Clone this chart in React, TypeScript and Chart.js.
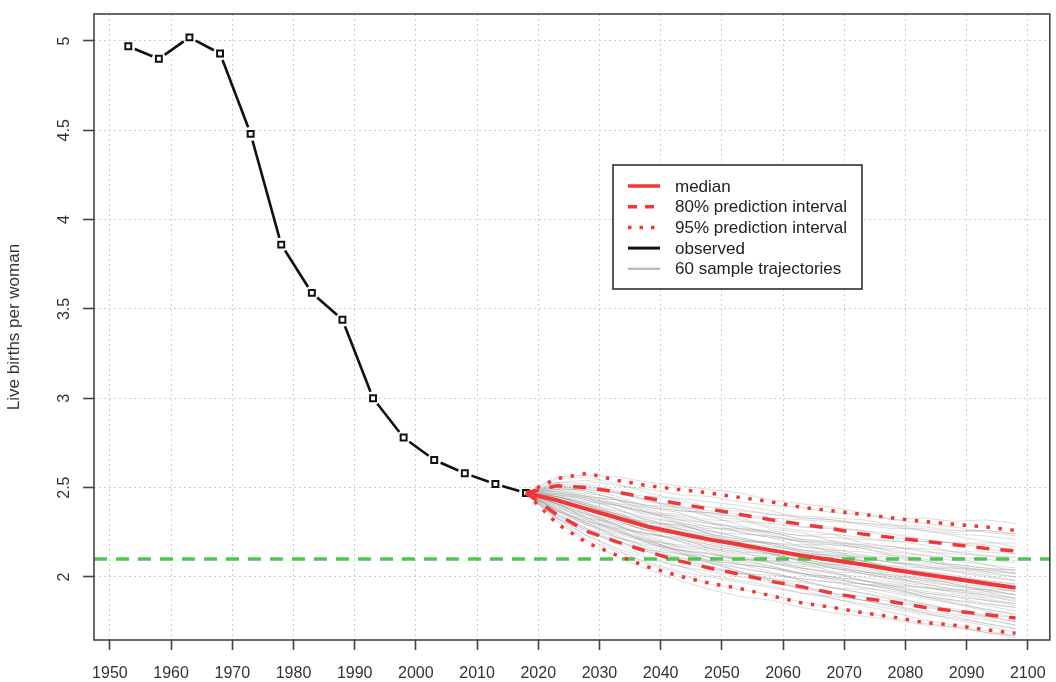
import React, { useEffect, useRef } from 'react';
import { Chart, registerables } from 'chart.js';

Chart.register(...registerables);

// ---------- data ----------
const OBS_YEARS = [1953, 1958, 1963, 1968, 1973, 1978, 1983, 1988, 1993, 1998, 2003, 2008, 2013, 2018];
const OBS_TFR = [4.97, 4.9, 5.02, 4.93, 4.48, 3.86, 3.59, 3.44, 3.0, 2.78, 2.655, 2.58, 2.52, 2.47];

const PROJ_YEARS = [2018, 2023, 2028, 2033, 2038, 2043, 2048, 2053, 2058, 2063, 2068, 2073, 2078, 2083, 2088, 2093, 2098];
const MEDIAN = [2.47, 2.43, 2.38, 2.33, 2.28, 2.245, 2.21, 2.18, 2.15, 2.12, 2.095, 2.07, 2.04, 2.015, 1.99, 1.965, 1.94];
const PI80_HIGH = [2.47, 2.51, 2.5, 2.475, 2.44, 2.41, 2.38, 2.35, 2.32, 2.295, 2.27, 2.24, 2.22, 2.2, 2.18, 2.16, 2.145];
const PI80_LOW = [2.47, 2.35, 2.255, 2.195, 2.14, 2.09, 2.05, 2.015, 1.975, 1.945, 1.91, 1.88, 1.86, 1.83, 1.81, 1.79, 1.77];
const PI95_HIGH = [2.47, 2.55, 2.58, 2.54, 2.51, 2.49, 2.47, 2.445, 2.42, 2.39, 2.37, 2.35, 2.33, 2.31, 2.295, 2.28, 2.26];
const PI95_LOW = [2.47, 2.3, 2.19, 2.12, 2.055, 2.005, 1.965, 1.935, 1.895, 1.855, 1.83, 1.8, 1.775, 1.745, 1.73, 1.705, 1.685];

// 60 sample trajectories, values for 2023 ... 2098 (each starts from the last observed value)
const TRAJECTORIES: number[][] = [
  [2.53, 2.54, 2.51, 2.49, 2.46, 2.45, 2.42, 2.40, 2.39, 2.36, 2.35, 2.32, 2.33, 2.31, 2.32, 2.30],
  [2.49, 2.49, 2.47, 2.45, 2.44, 2.42, 2.40, 2.37, 2.33, 2.32, 2.29, 2.27, 2.27, 2.25, 2.26, 2.24],
  [2.55, 2.56, 2.52, 2.47, 2.43, 2.39, 2.38, 2.35, 2.33, 2.32, 2.30, 2.28, 2.26, 2.24, 2.23, 2.21],
  [2.47, 2.45, 2.43, 2.40, 2.39, 2.37, 2.37, 2.35, 2.34, 2.33, 2.32, 2.29, 2.26, 2.23, 2.20, 2.17],
  [2.51, 2.50, 2.47, 2.42, 2.40, 2.35, 2.34, 2.32, 2.28, 2.27, 2.26, 2.22, 2.20, 2.19, 2.18, 2.15],
  [2.45, 2.42, 2.40, 2.36, 2.35, 2.32, 2.31, 2.30, 2.28, 2.28, 2.26, 2.24, 2.21, 2.19, 2.16, 2.13],
  [2.52, 2.51, 2.47, 2.43, 2.38, 2.34, 2.32, 2.27, 2.25, 2.20, 2.18, 2.17, 2.14, 2.13, 2.12, 2.11],
  [2.41, 2.38, 2.33, 2.31, 2.29, 2.27, 2.27, 2.26, 2.23, 2.24, 2.22, 2.20, 2.18, 2.14, 2.12, 2.09],
  [2.48, 2.45, 2.43, 2.40, 2.37, 2.36, 2.33, 2.28, 2.26, 2.24, 2.19, 2.17, 2.15, 2.11, 2.10, 2.08],
  [2.50, 2.47, 2.44, 2.38, 2.33, 2.30, 2.27, 2.25, 2.21, 2.20, 2.17, 2.15, 2.12, 2.11, 2.07, 2.05],
  [2.43, 2.39, 2.35, 2.30, 2.29, 2.25, 2.24, 2.23, 2.20, 2.19, 2.18, 2.14, 2.12, 2.09, 2.07, 2.03],
  [2.46, 2.43, 2.40, 2.35, 2.34, 2.31, 2.27, 2.23, 2.20, 2.16, 2.12, 2.11, 2.08, 2.07, 2.05, 2.04],
  [2.51, 2.49, 2.45, 2.39, 2.36, 2.30, 2.28, 2.25, 2.21, 2.19, 2.16, 2.13, 2.10, 2.07, 2.05, 2.02],
  [2.39, 2.33, 2.30, 2.26, 2.24, 2.23, 2.20, 2.19, 2.17, 2.15, 2.14, 2.12, 2.09, 2.06, 2.04, 2.02],
  [2.45, 2.41, 2.37, 2.33, 2.30, 2.28, 2.25, 2.22, 2.20, 2.18, 2.16, 2.12, 2.09, 2.06, 2.03, 2.00],
  [2.49, 2.45, 2.40, 2.34, 2.30, 2.24, 2.21, 2.19, 2.15, 2.13, 2.11, 2.08, 2.06, 2.04, 2.02, 2.00],
  [2.41, 2.35, 2.31, 2.26, 2.24, 2.21, 2.19, 2.17, 2.15, 2.14, 2.12, 2.09, 2.06, 2.03, 2.01, 1.98],
  [2.47, 2.44, 2.40, 2.36, 2.32, 2.30, 2.25, 2.22, 2.17, 2.15, 2.10, 2.08, 2.05, 2.03, 2.00, 1.98],
  [2.44, 2.40, 2.35, 2.32, 2.28, 2.26, 2.22, 2.18, 2.14, 2.11, 2.07, 2.05, 2.02, 2.00, 1.98, 1.96],
  [2.37, 2.30, 2.25, 2.20, 2.18, 2.16, 2.14, 2.13, 2.11, 2.10, 2.09, 2.06, 2.03, 2.01, 1.98, 1.96],
  [2.49, 2.46, 2.41, 2.36, 2.31, 2.26, 2.22, 2.19, 2.15, 2.12, 2.09, 2.05, 2.03, 2.00, 1.97, 1.94],
  [2.45, 2.41, 2.36, 2.29, 2.26, 2.20, 2.19, 2.14, 2.13, 2.09, 2.08, 2.03, 2.02, 1.98, 1.97, 1.94],
  [2.42, 2.37, 2.34, 2.29, 2.27, 2.24, 2.21, 2.18, 2.14, 2.12, 2.09, 2.05, 2.02, 1.99, 1.95, 1.92],
  [2.47, 2.43, 2.38, 2.32, 2.27, 2.23, 2.19, 2.15, 2.10, 2.07, 2.04, 2.01, 1.98, 1.97, 1.94, 1.92],
  [2.40, 2.34, 2.28, 2.24, 2.21, 2.17, 2.15, 2.12, 2.10, 2.07, 2.05, 2.02, 1.99, 1.96, 1.93, 1.90],
  [2.45, 2.40, 2.34, 2.28, 2.24, 2.19, 2.16, 2.13, 2.09, 2.06, 2.03, 2.00, 1.98, 1.95, 1.93, 1.90],
  [2.35, 2.27, 2.22, 2.18, 2.15, 2.13, 2.10, 2.08, 2.05, 2.03, 2.02, 1.99, 1.96, 1.93, 1.91, 1.88],
  [2.48, 2.44, 2.38, 2.31, 2.27, 2.21, 2.17, 2.13, 2.09, 2.05, 2.02, 1.98, 1.95, 1.91, 1.88, 1.85],
  [2.43, 2.37, 2.31, 2.26, 2.20, 2.16, 2.13, 2.11, 2.07, 2.06, 2.03, 2.00, 1.96, 1.93, 1.90, 1.86],
  [2.38, 2.31, 2.26, 2.21, 2.17, 2.15, 2.11, 2.08, 2.05, 2.02, 2.00, 1.97, 1.94, 1.92, 1.89, 1.87],
  [2.46, 2.41, 2.35, 2.29, 2.23, 2.18, 2.14, 2.10, 2.05, 2.02, 1.98, 1.95, 1.92, 1.90, 1.87, 1.85],
  [2.41, 2.35, 2.28, 2.23, 2.17, 2.13, 2.09, 2.06, 2.02, 1.99, 1.96, 1.94, 1.91, 1.89, 1.87, 1.84],
  [2.37, 2.29, 2.22, 2.17, 2.13, 2.09, 2.07, 2.05, 2.02, 2.00, 1.98, 1.95, 1.91, 1.89, 1.85, 1.83],
  [2.44, 2.38, 2.32, 2.25, 2.20, 2.14, 2.10, 2.06, 2.02, 1.98, 1.94, 1.92, 1.89, 1.87, 1.85, 1.83],
  [2.39, 2.32, 2.25, 2.20, 2.15, 2.11, 2.08, 2.05, 2.01, 1.99, 1.96, 1.93, 1.90, 1.87, 1.84, 1.81],
  [2.34, 2.26, 2.19, 2.14, 2.11, 2.08, 2.05, 2.02, 1.99, 1.97, 1.94, 1.91, 1.88, 1.85, 1.82, 1.79],
  [2.45, 2.40, 2.34, 2.27, 2.22, 2.16, 2.12, 2.08, 2.04, 2.00, 1.96, 1.93, 1.89, 1.86, 1.82, 1.79],
  [2.41, 2.33, 2.27, 2.20, 2.15, 2.09, 2.05, 2.02, 1.98, 1.94, 1.91, 1.88, 1.85, 1.82, 1.79, 1.77],
  [2.36, 2.27, 2.20, 2.14, 2.09, 2.04, 2.02, 1.99, 1.97, 1.94, 1.93, 1.89, 1.85, 1.81, 1.77, 1.73],
  [2.42, 2.36, 2.29, 2.22, 2.16, 2.11, 2.07, 2.03, 1.98, 1.94, 1.91, 1.87, 1.84, 1.81, 1.78, 1.75],
  [2.33, 2.23, 2.16, 2.10, 2.06, 2.03, 2.00, 1.97, 1.94, 1.91, 1.89, 1.86, 1.83, 1.81, 1.78, 1.75],
  [2.38, 2.30, 2.23, 2.16, 2.11, 2.06, 2.02, 1.98, 1.94, 1.90, 1.87, 1.84, 1.81, 1.79, 1.76, 1.73],
  [2.43, 2.36, 2.29, 2.21, 2.14, 2.08, 2.03, 1.99, 1.95, 1.91, 1.87, 1.84, 1.80, 1.78, 1.74, 1.71],
  [2.35, 2.26, 2.18, 2.11, 2.06, 2.01, 1.98, 1.95, 1.91, 1.88, 1.85, 1.82, 1.79, 1.77, 1.74, 1.71],
  [2.40, 2.32, 2.26, 2.19, 2.14, 2.09, 2.07, 2.05, 2.02, 2.00, 1.98, 1.96, 1.94, 1.92, 1.90, 1.88],
  [2.32, 2.21, 2.14, 2.08, 2.03, 2.00, 1.97, 1.94, 1.91, 1.89, 1.87, 1.83, 1.80, 1.76, 1.73, 1.69],
  [2.37, 2.29, 2.24, 2.19, 2.15, 2.13, 2.10, 2.09, 2.06, 2.05, 2.03, 2.01, 1.99, 1.98, 1.95, 1.94],
  [2.33, 2.23, 2.15, 2.07, 2.02, 1.96, 1.93, 1.90, 1.86, 1.83, 1.80, 1.77, 1.74, 1.72, 1.69, 1.66],
  [2.45, 2.40, 2.35, 2.29, 2.25, 2.21, 2.17, 2.13, 2.09, 2.05, 2.02, 1.99, 1.97, 1.95, 1.92, 1.90],
  [2.41, 2.35, 2.29, 2.24, 2.21, 2.18, 2.16, 2.14, 2.13, 2.12, 2.11, 2.08, 2.07, 2.05, 2.03, 2.02],
  [2.51, 2.48, 2.43, 2.36, 2.30, 2.24, 2.19, 2.14, 2.08, 2.03, 1.98, 1.94, 1.89, 1.85, 1.81, 1.77],
  [2.37, 2.31, 2.27, 2.24, 2.22, 2.21, 2.20, 2.19, 2.18, 2.18, 2.17, 2.16, 2.16, 2.14, 2.14, 2.13],
  [2.53, 2.52, 2.48, 2.43, 2.39, 2.34, 2.29, 2.24, 2.19, 2.14, 2.09, 2.04, 2.00, 1.96, 1.92, 1.88],
  [2.33, 2.25, 2.20, 2.15, 2.13, 2.11, 2.10, 2.09, 2.08, 2.07, 2.07, 2.06, 2.05, 2.05, 2.04, 2.04],
  [2.46, 2.44, 2.41, 2.39, 2.37, 2.36, 2.35, 2.33, 2.32, 2.31, 2.30, 2.29, 2.28, 2.26, 2.26, 2.24],
  [2.41, 2.33, 2.26, 2.19, 2.13, 2.08, 2.03, 1.98, 1.93, 1.88, 1.84, 1.80, 1.76, 1.73, 1.70, 1.67],
  [2.50, 2.48, 2.43, 2.37, 2.32, 2.28, 2.26, 2.25, 2.23, 2.22, 2.21, 2.20, 2.20, 2.19, 2.19, 2.19],
  [2.38, 2.30, 2.22, 2.15, 2.10, 2.05, 2.02, 2.01, 1.99, 1.97, 1.96, 1.95, 1.94, 1.93, 1.93, 1.92],
  [2.56, 2.57, 2.56, 2.53, 2.51, 2.49, 2.47, 2.43, 2.41, 2.39, 2.36, 2.32, 2.30, 2.28, 2.25, 2.23],
  [2.31, 2.20, 2.11, 2.04, 1.98, 1.93, 1.89, 1.87, 1.83, 1.80, 1.78, 1.76, 1.73, 1.72, 1.69, 1.67],
];

const REPLACEMENT_LEVEL = 2.1;

const X_MIN = 1947.4;
const X_MAX = 2103.6;
const X_STEP = 10;
const Y_MIN = 1.647;
const Y_MAX = 5.151;
const Y_STEP = 0.5;

const Y_TITLE = 'Live births per woman';
const LEGEND_LABELS = ['median', '80% prediction interval', '95% prediction interval', 'observed', '60 sample trajectories'];

// ---------- styles ----------
const FONT = '"Liberation Sans", Arial, Helvetica, sans-serif';
const RED = 'rgb(240, 55, 55)';
const GREEN = 'rgb(76, 201, 76)';
const GRAY_TRAJ = 'rgba(150, 150, 150, 0.32)';
const GRAY_LEG = 'rgb(190, 190, 190)';
const BLACK = '#111111';
const AXIS_COL = '#444444';
const GRID_COL = '#cdcdcd';
const TEXT_COL = '#333333';

const pts = (xs: number[], ys: number[]) => xs.map((x, i) => ({ x, y: ys[i] }));

const LEGEND_STYLES = [
  { color: RED, width: 3.5, dash: [] as number[] },
  { color: RED, width: 3.5, dash: [9, 8] },
  { color: RED, width: 3.5, dash: [3.5, 8] },
  { color: BLACK, width: 3, dash: [] as number[] },
  { color: GRAY_LEG, width: 2.5, dash: [] as number[] },
];

// observed series drawn R "type = b" style: segments stop short of each point
const observedLinePlugin = {
  id: 'rObservedLine',
  beforeDatasetsDraw(chart: any) {
    const { ctx } = chart;
    const xs = chart.scales.x;
    const ys = chart.scales.y;
    const gap = 7;
    ctx.save();
    ctx.strokeStyle = BLACK;
    ctx.lineWidth = 2.6;
    ctx.lineCap = 'butt';
    ctx.setLineDash([]);
    for (let i = 0; i < OBS_YEARS.length - 1; i++) {
      const x1 = xs.getPixelForValue(OBS_YEARS[i]);
      const y1 = ys.getPixelForValue(OBS_TFR[i]);
      const x2 = xs.getPixelForValue(OBS_YEARS[i + 1]);
      const y2 = ys.getPixelForValue(OBS_TFR[i + 1]);
      const dx = x2 - x1;
      const dy = y2 - y1;
      const len = Math.hypot(dx, dy);
      if (len <= 2 * gap) continue;
      const ux = dx / len;
      const uy = dy / len;
      ctx.beginPath();
      ctx.moveTo(x1 + ux * gap, y1 + uy * gap);
      ctx.lineTo(x2 - ux * gap, y2 - uy * gap);
      ctx.stroke();
    }
    ctx.restore();
  },
};

const boxPlugin = {
  id: 'rBox',
  afterDatasetsDraw(chart: any) {
    const { ctx, chartArea } = chart;
    ctx.save();
    ctx.strokeStyle = AXIS_COL;
    ctx.lineWidth = 1.6;
    ctx.setLineDash([]);
    ctx.strokeRect(chartArea.left, chartArea.top, chartArea.right - chartArea.left, chartArea.bottom - chartArea.top);
    ctx.restore();
  },
};

const legendPlugin = {
  id: 'rLegend',
  afterDatasetsDraw(chart: any) {
    const { ctx } = chart;
    const x0 = 613;
    const y0 = 165;
    const w = 249;
    const h = 124;
    ctx.save();
    ctx.fillStyle = '#ffffff';
    ctx.fillRect(x0, y0, w, h);
    ctx.strokeStyle = '#222222';
    ctx.lineWidth = 1.5;
    ctx.strokeRect(x0, y0, w, h);
    ctx.font = `17px ${FONT}`;
    ctx.textBaseline = 'middle';
    ctx.textAlign = 'left';
    LEGEND_LABELS.forEach((label, i) => {
      const y = y0 + 21 + i * 20.7;
      const st = LEGEND_STYLES[i];
      ctx.beginPath();
      ctx.strokeStyle = st.color;
      ctx.lineWidth = st.width;
      ctx.setLineDash(st.dash);
      ctx.moveTo(628, y);
      ctx.lineTo(660, y);
      ctx.stroke();
      ctx.setLineDash([]);
      ctx.fillStyle = '#222222';
      ctx.fillText(label, 675, y + 1);
    });
    ctx.restore();
  },
};

const yLabelPlugin = {
  id: 'rYLabels',
  afterDraw(chart: any) {
    const { ctx } = chart;
    const s = chart.scales.y;
    ctx.save();
    ctx.font = `16px ${FONT}`;
    ctx.fillStyle = TEXT_COL;
    ctx.textAlign = 'center';
    ctx.textBaseline = 'middle';
    s.ticks.forEach((t: any) => {
      const y = s.getPixelForValue(t.value);
      ctx.save();
      ctx.translate(s.right - 29, y);
      ctx.rotate(-Math.PI / 2);
      ctx.fillText(String(t.value), 0, 0);
      ctx.restore();
    });
    ctx.restore();
  },
};

export default function App() {
  const canvasRef = useRef<HTMLCanvasElement | null>(null);

  useEffect(() => {
    document.body.style.margin = '0';
    const canvas = canvasRef.current;
    if (!canvas) return;

    const lastObs = OBS_TFR[OBS_TFR.length - 1];

    const trajDatasets = TRAJECTORIES.map((row, k) => ({
      label: `trajectory ${k + 1}`,
      data: pts(PROJ_YEARS, [lastObs, ...row]),
      borderColor: GRAY_TRAJ,
      borderWidth: 1,
      pointRadius: 0,
      fill: false,
      order: 20,
    }));

    const datasets: any[] = [
      {
        label: 'observed',
        data: pts(OBS_YEARS, OBS_TFR),
        showLine: false,
        pointStyle: 'rect',
        pointRadius: 4.2,
        pointBackgroundColor: '#ffffff',
        pointBorderColor: BLACK,
        pointBorderWidth: 2,
        order: 28,
      },
      ...trajDatasets,
      {
        label: 'replacement level',
        data: [
          { x: X_MIN, y: REPLACEMENT_LEVEL },
          { x: X_MAX, y: REPLACEMENT_LEVEL },
        ],
        borderColor: GREEN,
        borderWidth: 3.5,
        borderDash: [13, 9],
        pointRadius: 0,
        order: 10,
      },
      {
        label: '95% upper',
        data: pts(PROJ_YEARS, PI95_HIGH),
        borderColor: RED,
        borderWidth: 3.5,
        borderDash: [3.5, 8.5],
        pointRadius: 0,
        order: 5,
      },
      {
        label: '95% lower',
        data: pts(PROJ_YEARS, PI95_LOW),
        borderColor: RED,
        borderWidth: 3.5,
        borderDash: [3.5, 8.5],
        pointRadius: 0,
        order: 5,
      },
      {
        label: '80% upper',
        data: pts(PROJ_YEARS, PI80_HIGH),
        borderColor: RED,
        borderWidth: 3.5,
        borderDash: [13, 11],
        pointRadius: 0,
        order: 4,
      },
      {
        label: '80% lower',
        data: pts(PROJ_YEARS, PI80_LOW),
        borderColor: RED,
        borderWidth: 3.5,
        borderDash: [13, 11],
        pointRadius: 0,
        order: 4,
      },
      {
        label: 'median',
        data: pts(PROJ_YEARS, MEDIAN),
        borderColor: RED,
        borderWidth: 4,
        pointRadius: 0,
        order: 1,
      },
    ];

    const gridCommon = {
      color: GRID_COL,
      lineWidth: 1,
      drawTicks: true,
      tickColor: AXIS_COL,
      tickWidth: 1.6,
      tickBorderDash: [],
    };

    const chart = new Chart(canvas, {
      type: 'line',
      data: { datasets },
      options: {
        animation: false,
        responsive: false,
        events: [],
        layout: { padding: { top: 14, right: 1, left: 0, bottom: 0 } },
        elements: { line: { tension: 0 } },
        plugins: {
          legend: { display: false },
          tooltip: { enabled: false },
        },
        scales: {
          x: {
            type: 'linear',
            min: X_MIN,
            max: X_MAX,
            afterFit: (s: any) => {
              s.height = 42;
              s.paddingLeft = 0;
              s.paddingRight = 0;
            },
            ticks: {
              stepSize: X_STEP,
              includeBounds: false,
              autoSkip: false,
              maxRotation: 0,
              minRotation: 0,
              padding: 0,
              color: TEXT_COL,
              font: { family: FONT, size: 16, lineHeight: 2.95 },
              callback: (v: any) => String(v),
            },
            grid: { ...gridCommon, tickLength: 10 },
            border: { display: false, dash: [2, 3] },
          },
          y: {
            type: 'linear',
            min: Y_MIN,
            max: Y_MAX,
            afterFit: (s: any) => {
              s.width = 94;
              s.paddingTop = 0;
              s.paddingBottom = 0;
            },
            ticks: {
              stepSize: Y_STEP,
              includeBounds: false,
              display: false,
            },
            grid: { ...gridCommon, tickLength: 11 },
            border: { display: false, dash: [2, 3] },
            title: {
              display: true,
              text: Y_TITLE,
              color: TEXT_COL,
              font: { family: FONT, size: 17 },
              padding: { top: 4, bottom: 0 },
            },
          },
        },
      } as any,
      plugins: [observedLinePlugin, boxPlugin, legendPlugin, yLabelPlugin],
    });

    return () => {
      chart.destroy();
    };
  }, []);

  return (
    <div style={{ width: 1056, height: 682, background: '#ffffff' }}>
      <canvas ref={canvasRef} width={1056} height={682} style={{ display: 'block' }} />
    </div>
  );
}
